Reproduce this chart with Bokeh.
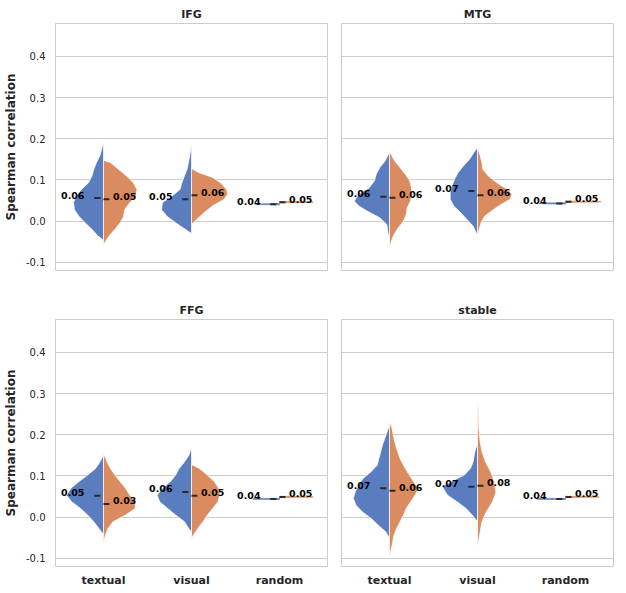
from bokeh.plotting import figure
from bokeh.layouts import column, row
from bokeh.models import FixedTicker, PrintfTickFormatter, ColumnDataSource, Range1d
from bokeh.core.properties import value
from bokeh.embed import file_html
from bokeh.resources import INLINE

categories = ["textual", "visual", "random"]
panel_titles = ["IFG", "MTG", "FFG", "stable"]
y_ticks = [-0.1, 0.0, 0.1, 0.2, 0.3, 0.4]
BLUE = "#597dbf"
ORANGE = "#da8b5f"
FONT = "DejaVu Sans"
TXT = "#262626"

# ---- half-violin profiles: y level and half width (x units) ----
# IFG
ifg_txt_b_y = [0.191, 0.159, 0.142, 0.126, 0.110, 0.093, 0.077, 0.061, 0.045, 0.028, 0.012, -0.004, -0.020, -0.037, -0.046]
ifg_txt_b_w = [0.0, 0.04, 0.08, 0.11, 0.13, 0.17, 0.25, 0.31, 0.34, 0.33, 0.28, 0.21, 0.13, 0.06, 0.0]
ifg_txt_o_y = [0.148, 0.142, 0.126, 0.110, 0.093, 0.077, 0.061, 0.045, 0.028, 0.012, -0.004, -0.020, -0.037, -0.057]
ifg_txt_o_w = [0.0, 0.08, 0.17, 0.26, 0.34, 0.38, 0.37, 0.30, 0.24, 0.23, 0.19, 0.13, 0.06, 0.0]
ifg_vis_b_y = [0.191, 0.159, 0.126, 0.110, 0.093, 0.077, 0.061, 0.045, 0.028, 0.012, -0.004, -0.020, -0.030]
ifg_vis_b_w = [0.0, 0.02, 0.05, 0.08, 0.11, 0.13, 0.22, 0.33, 0.34, 0.28, 0.18, 0.07, 0.0]
ifg_vis_o_y = [0.128, 0.118, 0.106, 0.093, 0.077, 0.065, 0.053, 0.037, 0.020, 0.004, -0.008]
ifg_vis_o_w = [0.0, 0.08, 0.24, 0.33, 0.40, 0.41, 0.37, 0.24, 0.14, 0.06, 0.0]
ifg_rnd_b_y = [0.0395, 0.0403, 0.0417, 0.0425]
ifg_rnd_b_w = [0.0, 0.27, 0.27, 0.0]
ifg_rnd_o_y = [0.0445, 0.0453, 0.0467, 0.0475]
ifg_rnd_o_w = [0.0, 0.38, 0.38, 0.0]
# MTG
mtg_txt_b_y = [0.167, 0.146, 0.130, 0.114, 0.098, 0.081, 0.065, 0.049, 0.037, 0.024, 0.008, -0.008, -0.024, -0.042]
mtg_txt_b_w = [0.0, 0.05, 0.11, 0.15, 0.17, 0.23, 0.35, 0.40, 0.35, 0.25, 0.11, 0.03, 0.02, 0.0]
mtg_txt_o_y = [0.169, 0.146, 0.130, 0.114, 0.098, 0.081, 0.065, 0.049, 0.032, 0.016, 0.0, -0.016, -0.033, -0.049, -0.065]
mtg_txt_o_w = [0.0, 0.06, 0.12, 0.18, 0.23, 0.25, 0.25, 0.24, 0.20, 0.19, 0.16, 0.10, 0.05, 0.02, 0.0]
mtg_vis_b_y = [0.179, 0.167, 0.150, 0.134, 0.118, 0.102, 0.085, 0.069, 0.053, 0.037, 0.020, 0.004, -0.012, -0.035]
mtg_vis_b_w = [0.0, 0.04, 0.09, 0.16, 0.22, 0.26, 0.29, 0.31, 0.31, 0.27, 0.19, 0.12, 0.05, 0.0]
mtg_vis_o_y = [0.179, 0.159, 0.142, 0.126, 0.110, 0.093, 0.077, 0.065, 0.053, 0.041, 0.028, 0.012, -0.004, -0.035]
mtg_vis_o_w = [0.0, 0.03, 0.05, 0.06, 0.12, 0.22, 0.34, 0.39, 0.37, 0.27, 0.18, 0.08, 0.04, 0.0]
mtg_rnd_b_y = [0.0415, 0.0423, 0.0437, 0.0445]
mtg_rnd_b_w = [0.0, 0.30, 0.30, 0.0]
mtg_rnd_o_y = [0.0455, 0.0463, 0.0477, 0.0485]
mtg_rnd_o_w = [0.0, 0.40, 0.40, 0.0]
# FFG
ffg_txt_b_y = [0.150, 0.134, 0.118, 0.102, 0.086, 0.070, 0.053, 0.037, 0.021, 0.005, -0.011, -0.028, -0.042]
ffg_txt_b_w = [0.0, 0.04, 0.09, 0.18, 0.28, 0.37, 0.42, 0.36, 0.26, 0.18, 0.11, 0.05, 0.0]
ffg_txt_o_y = [0.155, 0.134, 0.118, 0.102, 0.086, 0.070, 0.053, 0.037, 0.021, 0.005, -0.011, -0.028, -0.044, -0.068]
ffg_txt_o_w = [0.0, 0.04, 0.08, 0.13, 0.19, 0.25, 0.30, 0.36, 0.36, 0.25, 0.11, 0.05, 0.02, 0.0]
ffg_vis_b_y = [0.168, 0.150, 0.134, 0.118, 0.102, 0.086, 0.070, 0.053, 0.037, 0.021, 0.005, -0.011, -0.028, -0.037]
ffg_vis_b_w = [0.0, 0.03, 0.08, 0.14, 0.18, 0.24, 0.33, 0.39, 0.36, 0.27, 0.18, 0.08, 0.03, 0.0]
ffg_vis_o_y = [0.128, 0.118, 0.102, 0.086, 0.070, 0.053, 0.037, 0.021, 0.005, -0.011, -0.028, -0.044, -0.052]
ffg_vis_o_w = [0.0, 0.09, 0.18, 0.26, 0.31, 0.32, 0.30, 0.24, 0.18, 0.13, 0.07, 0.02, 0.0]
ffg_rnd_b_y = [0.0425, 0.0433, 0.0447, 0.0455]
ffg_rnd_b_w = [0.0, 0.30, 0.30, 0.0]
ffg_rnd_o_y = [0.0475, 0.0483, 0.0497, 0.0505]
ffg_rnd_o_w = [0.0, 0.38, 0.38, 0.0]
# stable
stb_txt_b_y = [0.223, 0.199, 0.175, 0.150, 0.126, 0.110, 0.094, 0.078, 0.061, 0.045, 0.029, 0.013, -0.003, -0.019, -0.036, -0.052]
stb_txt_b_w = [0.0, 0.04, 0.08, 0.11, 0.14, 0.21, 0.30, 0.35, 0.39, 0.41, 0.38, 0.31, 0.21, 0.13, 0.04, 0.0]
stb_txt_o_y = [0.231, 0.215, 0.191, 0.167, 0.142, 0.118, 0.094, 0.078, 0.066, 0.053, 0.037, 0.021, 0.005, -0.011, -0.028, -0.044, -0.068, -0.096]
stb_txt_o_w = [0.0, 0.03, 0.05, 0.08, 0.12, 0.18, 0.25, 0.30, 0.32, 0.29, 0.24, 0.19, 0.16, 0.12, 0.08, 0.05, 0.03, 0.0]
stb_vis_b_y = [0.179, 0.159, 0.134, 0.118, 0.102, 0.086, 0.074, 0.053, 0.037, 0.021, 0.005, -0.011]
stb_vis_b_w = [0.0, 0.03, 0.05, 0.08, 0.15, 0.30, 0.40, 0.34, 0.23, 0.13, 0.06, 0.0]
stb_vis_o_y = [0.288, 0.256, 0.215, 0.183, 0.159, 0.134, 0.110, 0.086, 0.061, 0.037, 0.013, -0.011, -0.036, -0.060, -0.076]
stb_vis_o_w = [0.0, 0.01, 0.015, 0.03, 0.05, 0.09, 0.15, 0.19, 0.21, 0.17, 0.10, 0.05, 0.03, 0.01, 0.0]
stb_rnd_b_y = [0.0425, 0.0433, 0.0447, 0.0455]
stb_rnd_b_w = [0.0, 0.32, 0.32, 0.0]
stb_rnd_o_y = [0.0475, 0.0483, 0.0497, 0.0505]
stb_rnd_o_w = [0.0, 0.38, 0.38, 0.0]

# ---- means and their labels (textual, visual, random) ----
ifg_mean_b = [0.056, 0.053, 0.041]
ifg_mean_o = [0.053, 0.063, 0.046]
mtg_mean_b = [0.059, 0.073, 0.043]
mtg_mean_o = [0.057, 0.063, 0.047]
ffg_mean_b = [0.052, 0.061, 0.044]
ffg_mean_o = [0.032, 0.052, 0.049]
stb_mean_b = [0.070, 0.074, 0.044]
stb_mean_o = [0.064, 0.076, 0.049]
ifg_lab_b = ["0.06", "0.05", "0.04"]
ifg_lab_o = ["0.05", "0.06", "0.05"]
mtg_lab_b = ["0.06", "0.07", "0.04"]
mtg_lab_o = ["0.06", "0.06", "0.05"]
ffg_lab_b = ["0.05", "0.06", "0.04"]
ffg_lab_o = ["0.03", "0.05", "0.05"]
stb_lab_b = ["0.07", "0.07", "0.04"]
stb_lab_o = ["0.06", "0.08", "0.05"]

panels = [
    dict(title="IFG",
         b=[(ifg_txt_b_y, ifg_txt_b_w), (ifg_vis_b_y, ifg_vis_b_w), (ifg_rnd_b_y, ifg_rnd_b_w)],
         o=[(ifg_txt_o_y, ifg_txt_o_w), (ifg_vis_o_y, ifg_vis_o_w), (ifg_rnd_o_y, ifg_rnd_o_w)],
         mb=ifg_mean_b, mo=ifg_mean_o, lb=ifg_lab_b, lo=ifg_lab_o),
    dict(title="MTG",
         b=[(mtg_txt_b_y, mtg_txt_b_w), (mtg_vis_b_y, mtg_vis_b_w), (mtg_rnd_b_y, mtg_rnd_b_w)],
         o=[(mtg_txt_o_y, mtg_txt_o_w), (mtg_vis_o_y, mtg_vis_o_w), (mtg_rnd_o_y, mtg_rnd_o_w)],
         mb=mtg_mean_b, mo=mtg_mean_o, lb=mtg_lab_b, lo=mtg_lab_o),
    dict(title="FFG",
         b=[(ffg_txt_b_y, ffg_txt_b_w), (ffg_vis_b_y, ffg_vis_b_w), (ffg_rnd_b_y, ffg_rnd_b_w)],
         o=[(ffg_txt_o_y, ffg_txt_o_w), (ffg_vis_o_y, ffg_vis_o_w), (ffg_rnd_o_y, ffg_rnd_o_w)],
         mb=ffg_mean_b, mo=ffg_mean_o, lb=ffg_lab_b, lo=ffg_lab_o),
    dict(title="stable",
         b=[(stb_txt_b_y, stb_txt_b_w), (stb_vis_b_y, stb_vis_b_w), (stb_rnd_b_y, stb_rnd_b_w)],
         o=[(stb_txt_o_y, stb_txt_o_w), (stb_vis_o_y, stb_vis_o_w), (stb_rnd_o_y, stb_rnd_o_w)],
         mb=stb_mean_b, mo=stb_mean_o, lb=stb_lab_b, lo=stb_lab_o),
]


def make_panel(pd, left, bottom):
    p = figure(frame_width=272, frame_height=247,
               x_range=Range1d(-0.545, 2.545), y_range=Range1d(-0.12, 0.48),
               output_backend="svg", toolbar_location=None,
               min_border_left=47 if left else 7, min_border_right=7 if left else 4,
               min_border_top=15, min_border_bottom=17 if bottom else 29)
    if not bottom:
        p.margin = (3, 0, 0, 0)
    p.title.text = pd["title"]
    p.title.align = "center"
    p.title.text_font = FONT
    p.title.text_font_size = "11px"
    p.title.text_font_style = "bold"
    p.title.text_color = TXT
    p.title.standoff = 5
    p.outline_line_color = "#cccccc"
    p.outline_line_width = 1
    p.background_fill_color = "white"
    p.border_fill_color = "white"
    p.xgrid.visible = False
    p.ygrid.ticker = FixedTicker(ticks=y_ticks)
    p.ygrid.grid_line_color = "#cccccc"
    p.ygrid.grid_line_width = 1

    p.yaxis.ticker = FixedTicker(ticks=y_ticks)
    p.yaxis.formatter = PrintfTickFormatter(format="%.1f")
    p.yaxis.axis_line_color = None
    p.yaxis.major_tick_line_color = None
    p.yaxis.minor_tick_line_color = None
    p.yaxis.major_tick_out = 0
    p.yaxis.major_tick_in = 0
    p.yaxis.major_label_text_font = FONT
    p.yaxis.major_label_text_font_size = "10px"
    p.yaxis.major_label_text_color = TXT
    p.yaxis.major_label_standoff = 10
    if left:
        p.yaxis.axis_label = "Spearman correlation"
        p.yaxis.axis_label_text_font = FONT
        p.yaxis.axis_label_text_font_size = "12px"
        p.yaxis.axis_label_text_font_style = "bold"
        p.yaxis.axis_label_text_color = TXT
        p.yaxis.axis_label_standoff = 5
    else:
        p.yaxis.visible = False

    p.xaxis.ticker = FixedTicker(ticks=[0, 1, 2])
    p.xaxis.major_label_overrides = {i: c for i, c in enumerate(categories)}
    p.xaxis.axis_line_color = None
    p.xaxis.major_tick_line_color = None
    p.xaxis.minor_tick_line_color = None
    p.xaxis.major_tick_out = 0
    p.xaxis.major_tick_in = 0
    p.xaxis.major_label_text_font = FONT
    p.xaxis.major_label_text_font_size = "11px"
    p.xaxis.major_label_text_font_style = "bold"
    p.xaxis.major_label_text_color = TXT
    p.xaxis.major_label_standoff = 7
    if not bottom:
        p.xaxis.visible = False

    xs, ys, fills, lines = [], [], [], []
    for i in range(3):
        for (yy, ww), sign, col in ((pd["b"][i], -1, BLUE), (pd["o"][i], 1, ORANGE)):
            px = [i + sign * wv for wv in ww] + [i, i]
            py = list(yy) + [yy[-1], yy[0]]
            xs.append(px)
            ys.append(py)
            fills.append(col)
            lines.append("white" if i < 2 else col)
    src = ColumnDataSource(dict(xs=xs, ys=ys, fill=fills, line=lines))
    p.patches("xs", "ys", source=src, fill_color="fill", line_color="line", line_width=0.7)

    cx = list(range(3))
    p.segment(x0=[c - 0.105 for c in cx], x1=[c - 0.035 for c in cx], y0=pd["mb"], y1=pd["mb"],
              line_color="#2a2a2a", line_width=2)
    p.segment(x0=[c + 0.0 for c in cx], x1=[c + 0.068 for c in cx], y0=pd["mo"], y1=pd["mo"],
              line_color="#2a2a2a", line_width=2)
    p.text(x=cx, y=pd["mb"], text=pd["lb"], x_offset=-19, y_offset=-3, text_align="right",
           text_baseline="middle", text_font=value(FONT), text_font_size="9.5px",
           text_font_style="bold", text_color="black")
    p.text(x=cx, y=pd["mo"], text=pd["lo"], x_offset=9.5, y_offset=-3, text_align="left",
           text_baseline="middle", text_font=value(FONT), text_font_size="9.5px",
           text_font_style="bold", text_color="black")
    return p


p1 = make_panel(panels[0], True, False)
p2 = make_panel(panels[1], False, False)
p3 = make_panel(panels[2], True, True)
p4 = make_panel(panels[3], False, True)

layout = column(row(p1, p2), row(p3, p4))
open("out.html", "w").write(file_html(layout, INLINE))
